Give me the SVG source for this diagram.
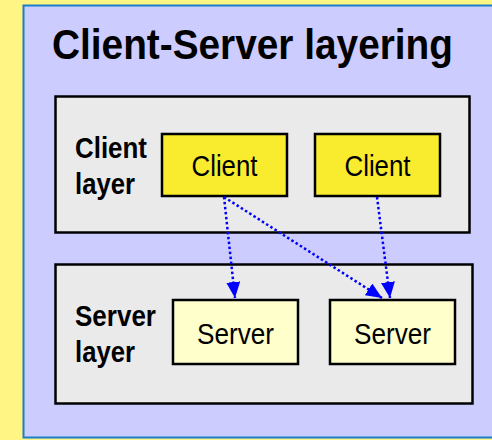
<svg xmlns="http://www.w3.org/2000/svg" width="492" height="440" viewBox="0 0 492 440">
  <defs>
    <style>
      .layer { fill: #EAEAEA; stroke: #000; stroke-width: 2.5; }
      .client { fill: #F9EC2E; stroke: #000; stroke-width: 2.5; }
      .server { fill: #FFFFCC; stroke: #000; stroke-width: 2.5; }
      .lbl { font-family: "Liberation Sans", Arial, sans-serif; font-weight: bold; font-size: 29px; fill: #000; }
      .ntxt { font-family: "Liberation Sans", Arial, sans-serif; font-size: 30px; fill: #000; text-anchor: middle; }
      .conn { fill: none; stroke: #0000FF; stroke-width: 2.5; stroke-dasharray: 2.5 2.5; }
    </style>
    <marker id="arr" viewBox="0 0 16 14" refX="16" refY="7" markerWidth="16" markerHeight="14" markerUnits="userSpaceOnUse" orient="auto">
      <path d="M0,0 L16,7 L0,14 Z" fill="#0000FF"/>
    </marker>
  </defs>
  <rect x="0" y="0" width="492" height="440" fill="#FFF585"/>
  <rect x="23.5" y="5.5" width="480" height="432" fill="#CCCCFF" stroke="#1A7FC8" stroke-width="2"/>
  <text x="52" y="59" font-family="'Liberation Sans', Arial, sans-serif" font-weight="bold" font-size="42" textLength="401" lengthAdjust="spacingAndGlyphs">Client-Server layering</text>

  <g id="client-layer">
    <rect class="layer" x="55.5" y="96.5" width="414" height="136"/>
    <text class="lbl" x="75" y="158" textLength="72" lengthAdjust="spacingAndGlyphs">Client</text>
    <text class="lbl" x="75" y="194" textLength="60" lengthAdjust="spacingAndGlyphs">layer</text>
  </g>
  <g id="server-layer">
    <rect class="layer" x="55.5" y="264.5" width="417" height="139"/>
    <text class="lbl" x="75" y="326" textLength="81" lengthAdjust="spacingAndGlyphs">Server</text>
    <text class="lbl" x="75" y="362" textLength="60" lengthAdjust="spacingAndGlyphs">layer</text>
  </g>

  <g id="client1">
    <rect class="client" x="162" y="134" width="125" height="62"/>
    <text class="ntxt" x="224.5" y="176" textLength="66" lengthAdjust="spacingAndGlyphs">Client</text>
  </g>
  <g id="client2">
    <rect class="client" x="315" y="134" width="125" height="62"/>
    <text class="ntxt" x="377.5" y="176" textLength="66" lengthAdjust="spacingAndGlyphs">Client</text>
  </g>
  <g id="server1">
    <rect class="server" x="173" y="300" width="125" height="64"/>
    <text class="ntxt" x="235.5" y="344" textLength="77" lengthAdjust="spacingAndGlyphs">Server</text>
  </g>
  <g id="server2">
    <rect class="server" x="330" y="300" width="125" height="64"/>
    <text class="ntxt" x="392.5" y="344" textLength="77" lengthAdjust="spacingAndGlyphs">Server</text>
  </g>

  <g id="connectors">
    <line class="conn" x1="224" y1="197" x2="235" y2="298" marker-end="url(#arr)"/>
    <line class="conn" x1="224" y1="197" x2="382" y2="298" marker-end="url(#arr)"/>
    <line class="conn" x1="377" y1="197" x2="390" y2="298" marker-end="url(#arr)"/>
  </g>
</svg>
